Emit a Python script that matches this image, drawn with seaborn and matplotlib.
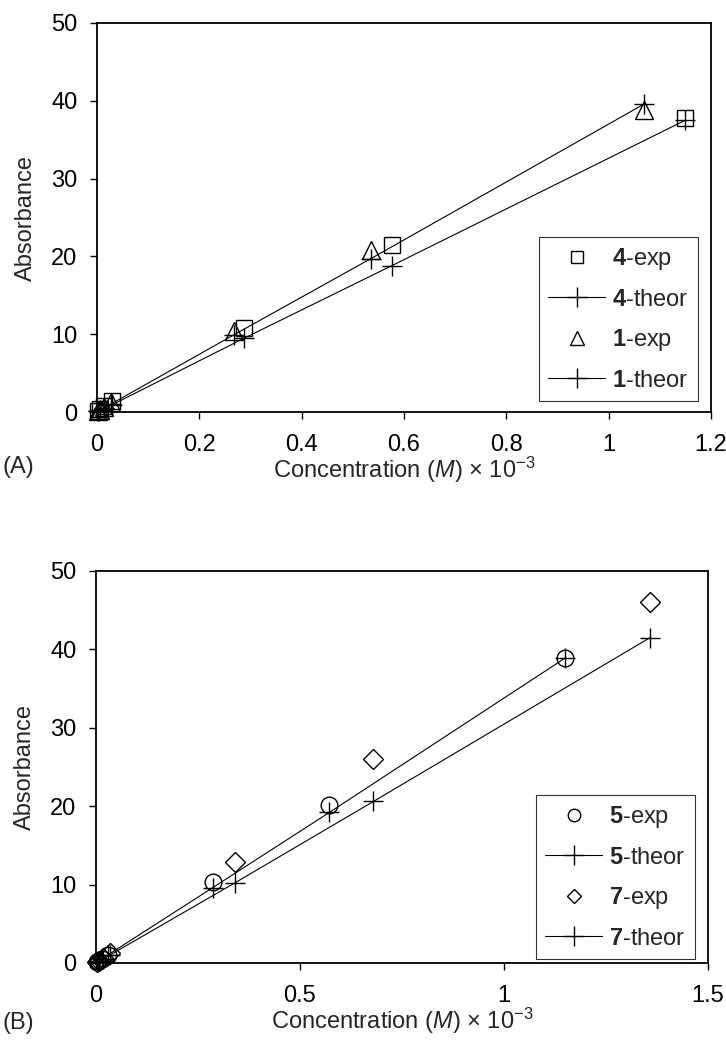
import pandas as pd
import numpy as np
import matplotlib.pyplot as plt
import seaborn as sns

# Panel A: compounds 4 and 1 (concentration x 10^-3 M, absorbance)
conc_4 = [0.0029, 0.0058, 0.0144, 0.0288, 0.288, 0.576, 1.150]
abs_4_exp = [0.1, 0.4, 0.8, 1.4, 10.8, 21.5, 37.8]
abs_4_theor = [0.1, 0.2, 0.5, 0.9, 9.5, 18.8, 37.5]

conc_1 = [0.0027, 0.0054, 0.0134, 0.0267, 0.267, 0.535, 1.070]
abs_1_exp = [0.1, 0.3, 0.7, 1.3, 10.4, 20.8, 38.8]
abs_1_theor = [0.1, 0.2, 0.5, 1.0, 9.9, 19.7, 39.6]

# Panel B: compounds 5 and 7
conc_5 = [0.0029, 0.0057, 0.0143, 0.0286, 0.286, 0.572, 1.150]
abs_5_exp = [0.1, 0.3, 0.5, 1.0, 10.3, 20.1, 38.9]
abs_5_theor = [0.1, 0.2, 0.5, 1.0, 9.6, 19.2, 38.9]

conc_7 = [0.0034, 0.0068, 0.0170, 0.0340, 0.340, 0.680, 1.358]
abs_7_exp = [0.1, 0.3, 0.6, 1.3, 12.9, 26.0, 46.0]
abs_7_theor = [0.1, 0.2, 0.5, 1.0, 10.2, 20.6, 41.5]

sns.set_style("ticks")
plt.rcParams['font.family'] = ['Liberation Sans', 'DejaVu Sans']
plt.rcParams['mathtext.fontset'] = 'custom'
plt.rcParams['mathtext.rm'] = 'Liberation Sans'
plt.rcParams['mathtext.it'] = 'Liberation Sans:italic'
plt.rcParams['mathtext.bf'] = 'Liberation Sans:bold'

FS = 17

fig = plt.figure(figsize=(7.26, 10.5), dpi=100)
axA = fig.add_axes([0.1336, 0.6076, 0.8455, 0.3705])
axB = fig.add_axes([0.1322, 0.0829, 0.8430, 0.3733])

xlabel = r'Concentration ($\mathit{M}$) $\times$ 10$^{-3}$'


def draw(ax, series, leg_anchor):
    for conc, vals, lab, mk, ms, theor in series:
        df = pd.DataFrame({'x': conc, 'y': vals})
        if theor:
            sns.lineplot(data=df, x='x', y='y', ax=ax, color='black', lw=0.8,
                         marker='+', markersize=15, mew=1.0, markeredgecolor='black',
                         label=lab, sort=False)
        else:
            sns.lineplot(data=df, x='x', y='y', ax=ax, color='black', linestyle='',
                         marker=mk, markersize=ms, markerfacecolor='none',
                         markeredgecolor='black', mew=1.0, label=lab, sort=False)
    for s in ax.spines.values():
        s.set_visible(True)
        s.set_linewidth(1.3)
        s.set_color('black')
    ax.tick_params(axis='x', direction='out', length=5, width=1.0, labelsize=FS,
                   colors='black', pad=11)
    ax.tick_params(axis='y', direction='out', length=5, width=1.0, labelsize=FS,
                   colors='black', pad=9)
    ax.set_ylim(0, 50)
    ax.set_yticks([0, 10, 20, 30, 40, 50])
    ax.set_ylabel('Absorbance', fontsize=FS, labelpad=10)
    ax.set_xlabel(xlabel, fontsize=FS)
    ax.xaxis.set_label_coords(0.5, -0.11)
    leg = ax.legend(loc='lower right', bbox_to_anchor=leg_anchor, fontsize=FS,
                    frameon=True, fancybox=False, edgecolor='black',
                    handlelength=2.4, handletextpad=0.3, labelspacing=0.7,
                    borderpad=0.4, borderaxespad=0)
    leg.get_frame().set_linewidth(0.8)
    # exp markers look smaller in the legend than on the plot
    for h, (_, _, _, _, ms, theor) in zip(leg.legend_handles, series):
        if not theor:
            h.set_markersize(ms * 0.75)


draw(axA, [
    (conc_4, abs_4_exp, r'$\mathbf{4\text{-}}$exp', 's', 12, False),
    (conc_4, abs_4_theor, r'$\mathbf{4\text{-}}$theor', '+', 15, True),
    (conc_1, abs_1_exp, r'$\mathbf{1\text{-}}$exp', '^', 13, False),
    (conc_1, abs_1_theor, r'$\mathbf{1\text{-}}$theor', '+', 15, True),
], (0.979, 0.028))
axA.set_xlim(0, 1.2)
axA.set_xticks([0, 0.2, 0.4, 0.6, 0.8, 1.0, 1.2])
axA.set_xticklabels(['0', '0.2', '0.4', '0.6', '0.8', '1', '1.2'])

draw(axB, [
    (conc_5, abs_5_exp, r'$\mathbf{5\text{-}}$exp', 'o', 12, False),
    (conc_5, abs_5_theor, r'$\mathbf{5\text{-}}$theor', '+', 15, True),
    (conc_7, abs_7_exp, r'$\mathbf{7\text{-}}$exp', 'D', 10, False),
    (conc_7, abs_7_theor, r'$\mathbf{7\text{-}}$theor', '+', 15, True),
], (0.979, 0.010))
axB.set_xlim(0, 1.5)
axB.set_xticks([0, 0.5, 1.0, 1.5])
axB.set_xticklabels(['0', '0.5', '1', '1.5'])

for ax in (axA, axB):
    for line in ax.get_lines():
        line.set_clip_on(False)

fig.text(0.003, 1 - 456 / 1050, '(A)', fontsize=FS, va='top')
fig.text(0.003, 1 - 1012 / 1050, '(B)', fontsize=FS, va='top')

fig.savefig('out.png', dpi=100)
